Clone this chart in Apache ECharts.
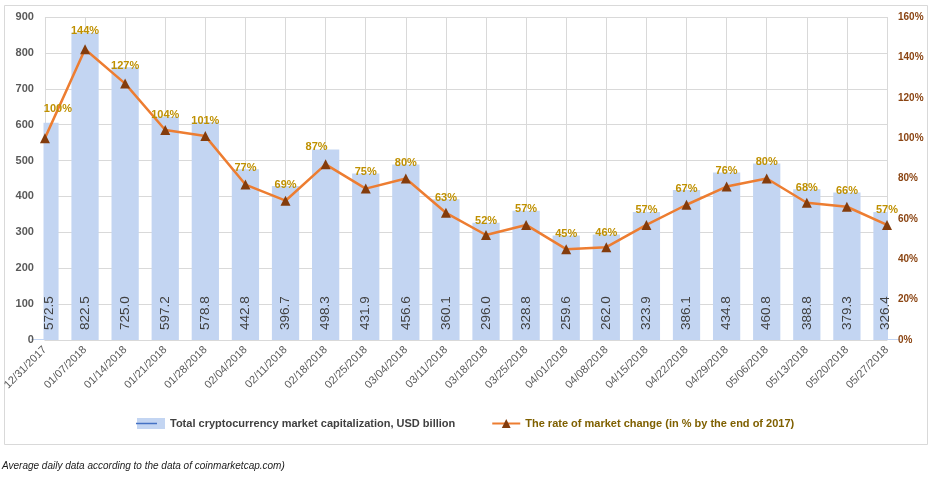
<!DOCTYPE html>
<html><head><meta charset="utf-8">
<script src="https://cdn.jsdelivr.net/npm/echarts@6/dist/echarts.min.js"></script>
<style>html,body{margin:0;padding:0;background:#fff}#c{width:932px;height:482px}</style>
</head><body><div id="c"></div><script>
const categories = ['12/31/2017','01/07/2018','01/14/2018','01/21/2018','01/28/2018','02/04/2018','02/11/2018','02/18/2018','02/25/2018','03/04/2018','03/11/2018','03/18/2018','03/25/2018','04/01/2018','04/08/2018','04/15/2018','04/22/2018','04/29/2018','05/06/2018','05/13/2018','05/20/2018','05/27/2018'];
// bar heights as drawn in the reference (USD billion scale)
const capHeights = [605, 856, 760, 622, 607, 476, 429, 531, 464, 489, 392, 327, 360, 291, 294, 357, 418, 467, 492, 420, 411, 357];
// bar value labels as printed in the reference
const capLabels = ['572.5','822.5','725.0','597.2','578.8','442.8','396.7','498.3','431.9','456.6','360.1','296.0','328.8','259.6','262.0','323.9','386.1','434.8','460.8','388.8','379.3','326.4'];
// rate of market change, % of end of 2017
const ratePct = [100, 144, 127, 104, 101, 77, 69, 87, 75, 80, 63, 52, 57, 45, 46, 57, 67, 76, 80, 68, 66, 57];
const leftTicks = [0, 100, 200, 300, 400, 500, 600, 700, 800, 900];
const rightTicks = [0, 20, 40, 60, 80, 100, 120, 140, 160];

const barName = 'Total cryptocurrency market capitalization, USD billion';
const lineName = 'The rate of market change (in % by the end of 2017)';
const FONT = '"Liberation Sans", Arial, sans-serif';

const pctLabelData = capHeights.map((v, i) => {
  const item = { value: v };
  if (i === 0) item.label = { offset: [13, -12] };
  if (i === 7) item.label = { offset: [-9, -1] };
  return item;
});
const valLabelData = capHeights.map((v, i) => {
  const item = { value: v };
  if (i === 0) item.label = { offset: [0, 4] };
  if (i === capHeights.length - 1) item.label = { offset: [0, -2] };
  return item;
});

const leftScale = { min: leftTicks[0], max: leftTicks[leftTicks.length - 1], interval: leftTicks[1] - leftTicks[0] };
const rightScale = { min: rightTicks[0], max: rightTicks[rightTicks.length - 1], interval: rightTicks[1] - rightTicks[0] };

const chart = echarts.init(document.getElementById('c'), null, { renderer: 'canvas' });
chart.setOption({
  animation: false,
  backgroundColor: '#fff',
  textStyle: { fontFamily: FONT },
  grid: { left: 44, right: 45, top: 17, bottom: 142, containLabel: false },
  legend: {
    left: 132, top: 413, itemWidth: 28, itemHeight: 11, itemGap: 36,
    textStyle: { fontFamily: FONT, fontSize: 11, fontWeight: 'bold' },
    data: [
      { name: barName, icon: 'rect', textStyle: { color: '#404040' } },
      { name: lineName, textStyle: { color: '#7F6000' } }
    ]
  },
  xAxis: {
    type: 'category', data: categories, boundaryGap: false,
    axisLine: { show: true, lineStyle: { color: '#d9d9d9', width: 1 } },
    axisTick: { show: false },
    splitLine: { show: true, lineStyle: { color: '#d9d9d9', width: 1 } },
    axisLabel: { interval: 0, rotate: 45, color: '#595959', fontSize: 11, margin: 8, fontFamily: FONT }
  },
  yAxis: [
    Object.assign({
      type: 'value', position: 'left',
      axisLine: { show: false }, axisTick: { show: false },
      splitLine: { show: true, lineStyle: { color: '#d9d9d9', width: 1 } },
      axisLabel: { show: false }
    }, leftScale),
    Object.assign({
      type: 'value', position: 'right', z: 20,
      axisLine: { show: false }, axisTick: { show: false }, splitLine: { show: false },
      axisLabel: { color: '#8B4513', fontSize: 10, fontWeight: 'bold', margin: 11, formatter: '{value}%', fontFamily: FONT }
    }, rightScale),
    Object.assign({
      type: 'value', position: 'left', offset: 0, z: 20,
      axisLine: { show: false }, axisTick: { show: false }, splitLine: { show: false },
      axisLabel: { color: '#595959', fontSize: 11, fontWeight: 'bold', margin: 11, fontFamily: FONT }
    }, leftScale)
  ],
  series: [
    {
      name: barName, type: 'bar', data: capHeights, barCategoryGap: '32%',
      itemStyle: { color: '#C3D5F2' }, z: 2
    },
    {
      name: 'valLabels', type: 'bar', data: valLabelData, barGap: '-100%', barCategoryGap: '32%',
      itemStyle: { color: 'rgba(0,0,0,0)' }, silent: true, z: 6,
      label: {
        show: true, position: 'insideBottom', distance: 10, rotate: 90, align: 'left', verticalAlign: 'middle',
        color: '#404040', fontSize: 13.5, fontFamily: FONT,
        formatter: p => capLabels[p.dataIndex]
      }
    },
    {
      name: 'pctLabels', type: 'bar', data: pctLabelData, barGap: '-100%', barCategoryGap: '32%',
      itemStyle: { color: 'rgba(0,0,0,0)' }, silent: true, z: 6,
      label: {
        show: true, position: 'top', distance: -4, color: '#BF9000', fontSize: 11, fontWeight: 'bold', fontFamily: FONT,
        formatter: p => ratePct[p.dataIndex] + '%'
      }
    },
    {
      name: lineName, type: 'line', yAxisIndex: 1, data: ratePct,
      lineStyle: { color: '#ED7D31', width: 2.5 },
      itemStyle: { color: '#843C0C' },
      symbol: 'triangle', symbolSize: 10, showAllSymbol: true,
      z: 5
    }
  ],
  graphic: [
    { type: 'rect', z: 3, left: 26, top: 17, shape: { width: 17.5, height: 322 }, style: { fill: '#fff' }, silent: true },
    { type: 'rect', z: 3, left: 888, top: 17, shape: { width: 16, height: 322 }, style: { fill: '#fff' }, silent: true },
    { type: 'rect', z: 0, left: 2, top: 3, shape: { width: 923, height: 439 }, style: { fill: 'none', stroke: '#d9d9d9', lineWidth: 1 }, silent: true },
    { type: 'line', z: 30, shape: { x1: 136, y1: 423.5, x2: 157, y2: 423.5 }, style: { stroke: '#4472C4', lineWidth: 1.5 }, silent: true },
    { type: 'text', left: 2, top: 461, style: { text: 'Average daily data according to the data of coinmarketcap.com)', font: 'italic 10px "Liberation Sans", Arial, sans-serif', fill: '#1a1a1a' } }
  ]
});
</script></body></html>
